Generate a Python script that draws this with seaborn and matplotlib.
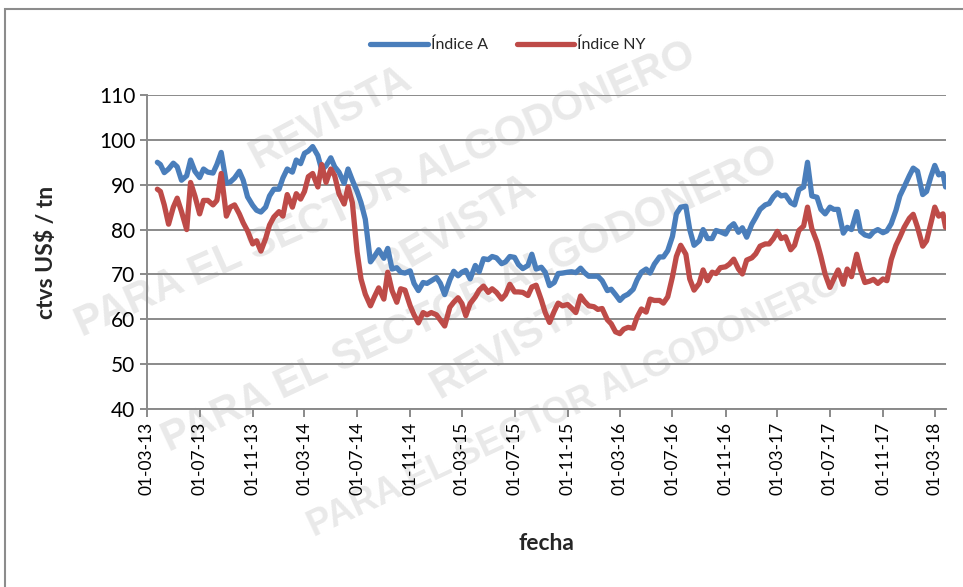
import matplotlib
matplotlib.use('Agg')
import matplotlib.pyplot as plt
import seaborn as sns
import pandas as pd
from matplotlib.patches import Rectangle

# fechas de lectura (1, 10 y 20 de cada mes)
fechas = [
    '2013-03-25',
    '2013-04-01', '2013-04-10', '2013-04-20', '2013-05-01', '2013-05-10', '2013-05-20',
    '2013-06-01', '2013-06-10', '2013-06-20', '2013-07-01', '2013-07-10', '2013-07-20',
    '2013-08-01', '2013-08-10', '2013-08-20', '2013-09-01', '2013-09-10', '2013-09-20',
    '2013-10-01', '2013-10-10', '2013-10-20', '2013-11-01', '2013-11-10', '2013-11-20',
    '2013-12-01', '2013-12-10', '2013-12-20',
    '2014-01-01', '2014-01-10', '2014-01-20', '2014-02-01', '2014-02-10', '2014-02-20',
    '2014-03-01', '2014-03-10', '2014-03-20', '2014-04-01', '2014-04-10', '2014-04-20',
    '2014-05-01', '2014-05-10', '2014-05-20', '2014-06-01', '2014-06-10', '2014-06-20',
    '2014-07-01', '2014-07-10', '2014-07-20', '2014-08-01', '2014-08-10', '2014-08-20',
    '2014-09-01', '2014-09-10', '2014-09-20', '2014-10-01', '2014-10-10', '2014-10-20',
    '2014-11-01', '2014-11-10', '2014-11-20', '2014-12-01', '2014-12-10', '2014-12-20',
    '2015-01-01', '2015-01-10', '2015-01-20', '2015-02-01', '2015-02-10', '2015-02-20',
    '2015-03-01', '2015-03-10', '2015-03-20', '2015-04-01', '2015-04-10', '2015-04-20',
    '2015-05-01', '2015-05-10', '2015-05-20', '2015-06-01', '2015-06-10', '2015-06-20',
    '2015-07-01', '2015-07-10', '2015-07-20', '2015-08-01', '2015-08-10', '2015-08-20',
    '2015-09-01', '2015-09-10', '2015-09-20', '2015-10-01', '2015-10-10', '2015-10-20',
    '2015-11-01', '2015-11-10', '2015-11-20', '2015-12-01', '2015-12-10', '2015-12-20',
    '2016-01-01', '2016-01-10', '2016-01-20', '2016-02-01', '2016-02-10', '2016-02-20',
    '2016-03-01', '2016-03-10', '2016-03-20', '2016-04-01', '2016-04-10', '2016-04-20',
    '2016-05-01', '2016-05-10', '2016-05-20', '2016-06-01', '2016-06-10', '2016-06-20',
    '2016-07-01', '2016-07-10', '2016-07-20', '2016-08-01', '2016-08-10', '2016-08-20',
    '2016-09-01', '2016-09-10', '2016-09-20', '2016-10-01', '2016-10-10', '2016-10-20',
    '2016-11-01', '2016-11-10', '2016-11-20', '2016-12-01', '2016-12-10', '2016-12-20',
    '2017-01-01', '2017-01-10', '2017-01-20', '2017-02-01', '2017-02-10', '2017-02-20',
    '2017-03-01', '2017-03-10', '2017-03-20', '2017-04-01', '2017-04-10', '2017-04-20',
    '2017-05-01', '2017-05-10', '2017-05-20', '2017-06-01', '2017-06-10', '2017-06-20',
    '2017-07-01', '2017-07-10', '2017-07-20', '2017-08-01', '2017-08-10', '2017-08-20',
    '2017-09-01', '2017-09-10', '2017-09-20', '2017-10-01', '2017-10-10', '2017-10-20',
    '2017-11-01', '2017-11-10', '2017-11-20', '2017-12-01', '2017-12-10', '2017-12-20',
    '2018-01-01', '2018-01-10', '2018-01-20', '2018-02-01', '2018-02-10', '2018-02-20',
    '2018-03-01', '2018-03-10', '2018-03-20', '2018-03-26',
]

indice_a = [
    95.0,
    94.5, 92.7, 93.5, 94.8, 94.0, 91.0,
    92.0, 95.5, 93.0, 91.6, 93.5, 92.8,
    92.6, 94.5, 97.2, 90.3, 90.6, 91.5,
    93.0, 91.0, 87.3, 85.4, 84.3, 83.9,
    85.0, 87.5, 89.0,
    89.0, 91.5, 93.5, 92.8, 95.5, 94.7,
    97.0, 97.5, 98.5, 96.5, 93.3, 94.2,
    96.0, 94.0, 92.8, 90.3, 93.5, 91.0,
    88.5, 86.0, 82.3, 72.8, 74.0, 75.5,
    73.6, 75.8, 71.2, 71.5, 70.5, 70.3,
    70.8, 68.0, 66.4, 68.2, 68.0, 68.6,
    69.3, 68.0, 65.5, 68.8, 70.7, 69.7,
    70.5, 70.9, 69.0, 72.0, 70.6, 73.5,
    73.3, 74.0, 73.7, 72.4, 72.8, 74.0,
    73.8, 72.2, 71.3, 72.0, 74.5, 71.2,
    71.6, 70.5, 67.5, 68.2, 70.2, 70.3,
    70.5, 70.6, 70.4, 71.4, 70.4, 69.6,
    69.6, 69.6, 68.6, 66.4, 66.7, 65.5,
    64.2, 65.1, 65.6, 66.7, 68.8, 70.5,
    71.2, 70.3, 72.3, 73.9, 73.9, 75.3,
    78.5, 83.5, 85.0, 85.2, 80.0, 76.5,
    77.5, 80.0, 78.0, 78.0, 79.8, 79.5,
    79.0, 80.5, 81.3, 79.4, 80.4, 78.3,
    81.2, 82.7, 84.5, 85.5, 85.8, 87.3,
    88.2, 87.5, 87.7, 86.0, 85.5, 88.9,
    89.5, 95.0, 87.5, 87.2, 84.5, 83.5,
    85.0, 84.5, 84.5, 79.2, 80.5, 80.0,
    84.0, 79.6, 78.8, 78.5, 79.5, 80.0,
    79.3, 79.7, 81.3, 84.3, 87.5, 89.5,
    92.0, 93.7, 93.0, 87.8, 88.5, 91.8,
    94.3, 92.2, 92.5, 89.5,
]

indice_ny = [
    89.0,
    88.5, 85.5, 81.2, 85.0, 87.0, 84.0,
    80.0, 90.5, 87.5, 83.5, 86.5, 86.5,
    85.5, 86.5, 92.5, 83.0, 85.0, 85.5,
    83.5, 81.5, 79.7, 76.8, 77.5, 75.2,
    78.0, 81.0, 82.8,
    84.0, 83.0, 87.8, 85.0, 88.0, 86.8,
    88.5, 91.8, 92.5, 89.5, 94.5, 90.5,
    93.5, 92.0, 88.0, 85.7, 89.5, 86.0,
    75.0, 69.0, 65.6, 63.0, 65.0, 67.0,
    64.5, 70.5, 66.4, 63.8, 66.8, 66.5,
    63.0, 61.0, 59.2, 61.5, 61.0, 61.5,
    61.0, 59.8, 58.5, 62.7, 63.8, 64.8,
    63.5, 60.8, 63.5, 65.0, 66.5, 67.4,
    66.0, 66.8, 66.0, 64.5, 65.5, 67.8,
    66.1, 66.1, 66.0, 65.3, 67.2, 67.6,
    64.3, 61.5, 59.3, 61.8, 63.6, 63.0,
    63.3, 62.5, 61.5, 65.2, 64.0, 63.0,
    62.8, 62.2, 62.4, 59.9, 59.0, 57.2,
    56.8, 57.8, 58.2, 58.0, 60.5, 62.3,
    61.6, 64.5, 64.2, 64.2, 63.6, 65.0,
    69.5, 74.0, 76.5, 74.5, 69.0, 66.5,
    68.0, 71.0, 68.6, 70.5, 70.2, 71.5,
    71.7, 72.3, 73.4, 71.2, 70.1, 73.2,
    73.7, 74.6, 76.3, 76.8, 76.8, 78.0,
    79.6, 78.0, 78.4, 75.5, 76.5, 79.8,
    80.8, 85.0, 80.2, 77.2, 74.0, 70.0,
    67.1, 69.0, 71.0, 67.8, 71.2, 69.5,
    74.5, 71.0, 68.2, 68.5, 68.9, 68.0,
    69.0, 68.6, 73.3, 76.5, 78.3, 80.5,
    82.5, 83.4, 80.5, 76.3, 77.5, 81.5,
    85.0, 83.0, 83.5, 80.5,
]

# marcas del eje x
fechas_ticks = ['2013-03-01', '2013-07-01', '2013-11-01', '2014-03-01', '2014-07-01',
                '2014-11-01', '2015-03-01', '2015-07-01', '2015-11-01', '2016-03-01',
                '2016-07-01', '2016-11-01', '2017-03-01', '2017-07-01', '2017-11-01',
                '2018-03-01']
etiquetas_ticks = ['01-03-13', '01-07-13', '01-11-13', '01-03-14', '01-07-14',
                   '01-11-14', '01-03-15', '01-07-15', '01-11-15', '01-03-16',
                   '01-07-16', '01-11-16', '01-03-17', '01-07-17', '01-11-17',
                   '01-03-18']
valores_y = [40, 50, 60, 70, 80, 90, 100, 110]

df = pd.DataFrame({'fecha': pd.to_datetime(fechas), 'Índice A': indice_a, 'Índice NY': indice_ny})
largo = df.melt(id_vars='fecha', var_name='serie', value_name='valor')

sns.set_theme(style='white')
plt.rcParams['font.family'] = ['Lato', 'DejaVu Sans']

fig = plt.figure(figsize=(9.63, 5.87), dpi=100)

# marco del grafico
fig.patches.append(Rectangle((5 / 963, -0.05), 1.0, 1 - 9 / 587 + 0.05, transform=fig.transFigure,
                             fill=False, edgecolor='#8c8c8c', linewidth=1.5))

# marca de agua
gris = '#e9e9e9'
for txt, cx, cy, rot, size in [
    ('REVISTA', 330, 118, 28, 30),
    ('PARA EL SECTOR ALGODONERO', 385, 190, 24, 30),
    ('REVISTA', 455, 228, 30, 30),
    ('PARA EL SECTOR ALGODONERO', 470, 300, 25, 30),
    ('REVISTA', 510, 345, 30, 30),
    ('PARA EL SECTOR ALGODONERO', 575, 405, 25, 26),
]:
    fig.text(cx / 963, 1 - cy / 587, txt, rotation=rot, fontsize=size, fontweight='bold',
             color=gris, ha='center', va='center', family='Liberation Sans', zorder=-1)

ax = fig.add_axes([147 / 963, 1 - 409 / 587, (946 - 147) / 963, (409 - 95) / 587])
ax.set_facecolor('none')
sns.lineplot(data=largo, x='fecha', y='valor', hue='serie',
             palette=['#4A7EBB', '#BE4B48'], linewidth=3.8, ax=ax)

ax.set_ylim(40, 110)
ax.set_yticks(valores_y)
ax.set_xlim(pd.Timestamp('2013-03-01'), pd.Timestamp('2018-03-27'))
ax.set_xticks(pd.to_datetime(fechas_ticks))
ax.set_xticklabels(etiquetas_ticks, rotation=90)

ax.grid(axis='y', color='#8a8a8a', linewidth=1.4)
ax.grid(axis='x', visible=False)
ax.set_axisbelow(True)
for lado in ['top', 'right']:
    ax.spines[lado].set_visible(False)
for lado in ['left', 'bottom']:
    ax.spines[lado].set_color('#8a8a8a')
    ax.spines[lado].set_linewidth(1.4)

ax.tick_params(axis='y', labelsize=15, colors='#8a8a8a', labelcolor='black', length=5, width=1.4, left=True)
ax.tick_params(axis='x', labelsize=12.5, colors='#8a8a8a', labelcolor='black', length=6, width=1.4, bottom=True)

ax.set_xlabel('fecha', fontsize=16.5, fontweight='bold', labelpad=27)
ax.set_ylabel('ctvs US$ / tn', fontsize=16.5, fontweight='bold', labelpad=30)

ax.legend(loc='center', bbox_to_anchor=(508 / 963, 1 - 45 / 587), bbox_transform=fig.transFigure,
          ncol=2, frameon=False, fontsize=11.5, handlelength=3.6, handletextpad=0.2,
          columnspacing=1.8)

fig.savefig('out.png', dpi=100)
